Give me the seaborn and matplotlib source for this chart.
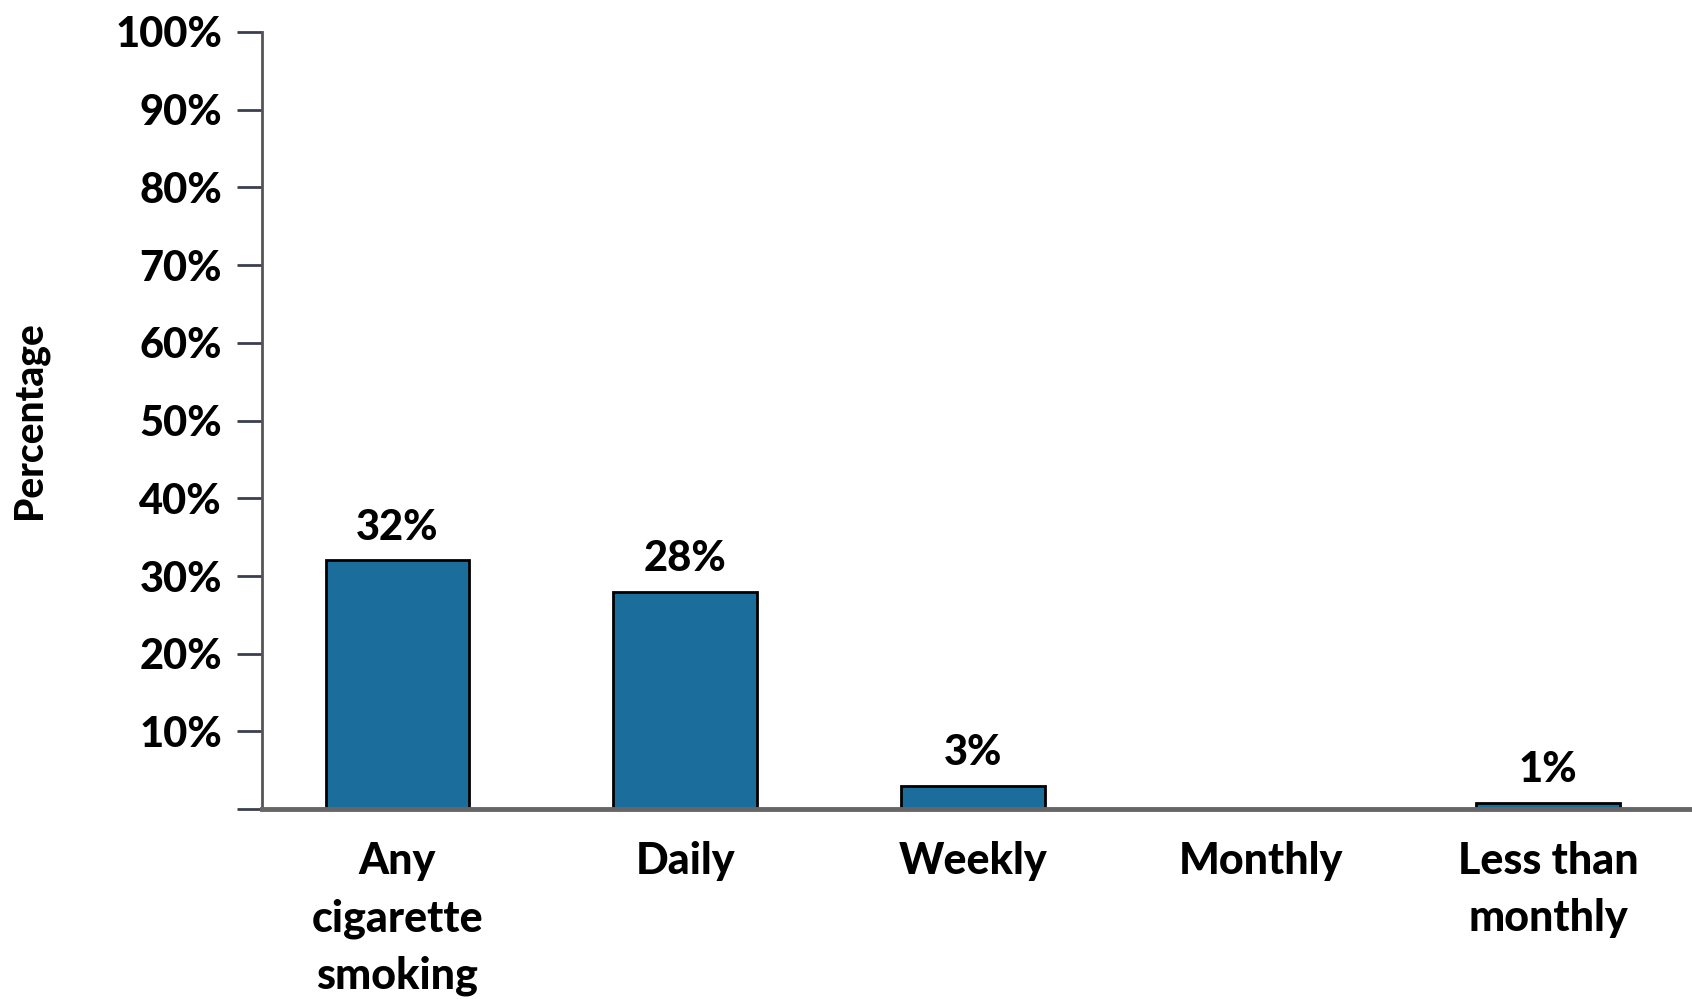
import matplotlib
matplotlib.use("Agg")
import matplotlib.pyplot as plt
import seaborn as sns
import pandas as pd

# data
categories = ["Any\ncigarette\nsmoking", "Daily", "Weekly", "Monthly", "Less than\nmonthly"]
values = [32, 28, 3, 0, 0.8]
value_labels = ["32%", "28%", "3%", "", "1%"]
y_ticks = [0, 10, 20, 30, 40, 50, 60, 70, 80, 90, 100]

BAR_COLOR = "#1b6e9b"
WEIGHT = 900

sns.set_theme(style="white")
plt.rcParams["font.family"] = ["Lato", "DejaVu Sans"]
plt.rcParams["text.color"] = "black"
plt.rcParams["axes.labelcolor"] = "black"
plt.rcParams["xtick.labelcolor"] = "black"
plt.rcParams["ytick.labelcolor"] = "black"

df = pd.DataFrame({"category": categories, "value": values})

fig = plt.figure(figsize=(16.92, 9.99), dpi=100)
ax = fig.add_axes([0.155, 0.19, 0.845, 0.778])

sns.barplot(data=df, x="category", y="value", color=BAR_COLOR, saturation=1,
            edgecolor="black", linewidth=2, width=0.5, ax=ax)

ax.bar_label(ax.containers[0], labels=value_labels, padding=10,
             fontsize=30, fontweight=WEIGHT, color="black")

ax.set_ylim(0, 100)
ax.set_xlim(-0.47, 4.5)
ax.set_yticks(y_ticks)
ax.set_yticklabels([f"{v}%" if v > 0 else "" for v in y_ticks],
                   fontsize=30, fontweight=WEIGHT)
ax.tick_params(axis="y", length=18, width=2, color="#3a3f4f", pad=11, left=True,
               labelcolor="black")
ax.tick_params(axis="x", length=0, pad=23, labelsize=31, labelcolor="black")
for lab in ax.get_xticklabels():
    lab.set_fontweight(WEIGHT)
    lab.set_linespacing(1.52)
    lab.set_verticalalignment("top")

ax.set_xlabel("")
ax.set_ylabel("Percentage", fontsize=28, fontweight=WEIGHT, labelpad=48, color="black")

sns.despine(ax=ax, top=True, right=True)
ax.spines["left"].set_color("#555555")
ax.spines["left"].set_linewidth(2)
ax.spines["bottom"].set_color("#666666")
ax.spines["bottom"].set_linewidth(3.5)

fig.savefig("out.png", dpi=100, facecolor="white")
